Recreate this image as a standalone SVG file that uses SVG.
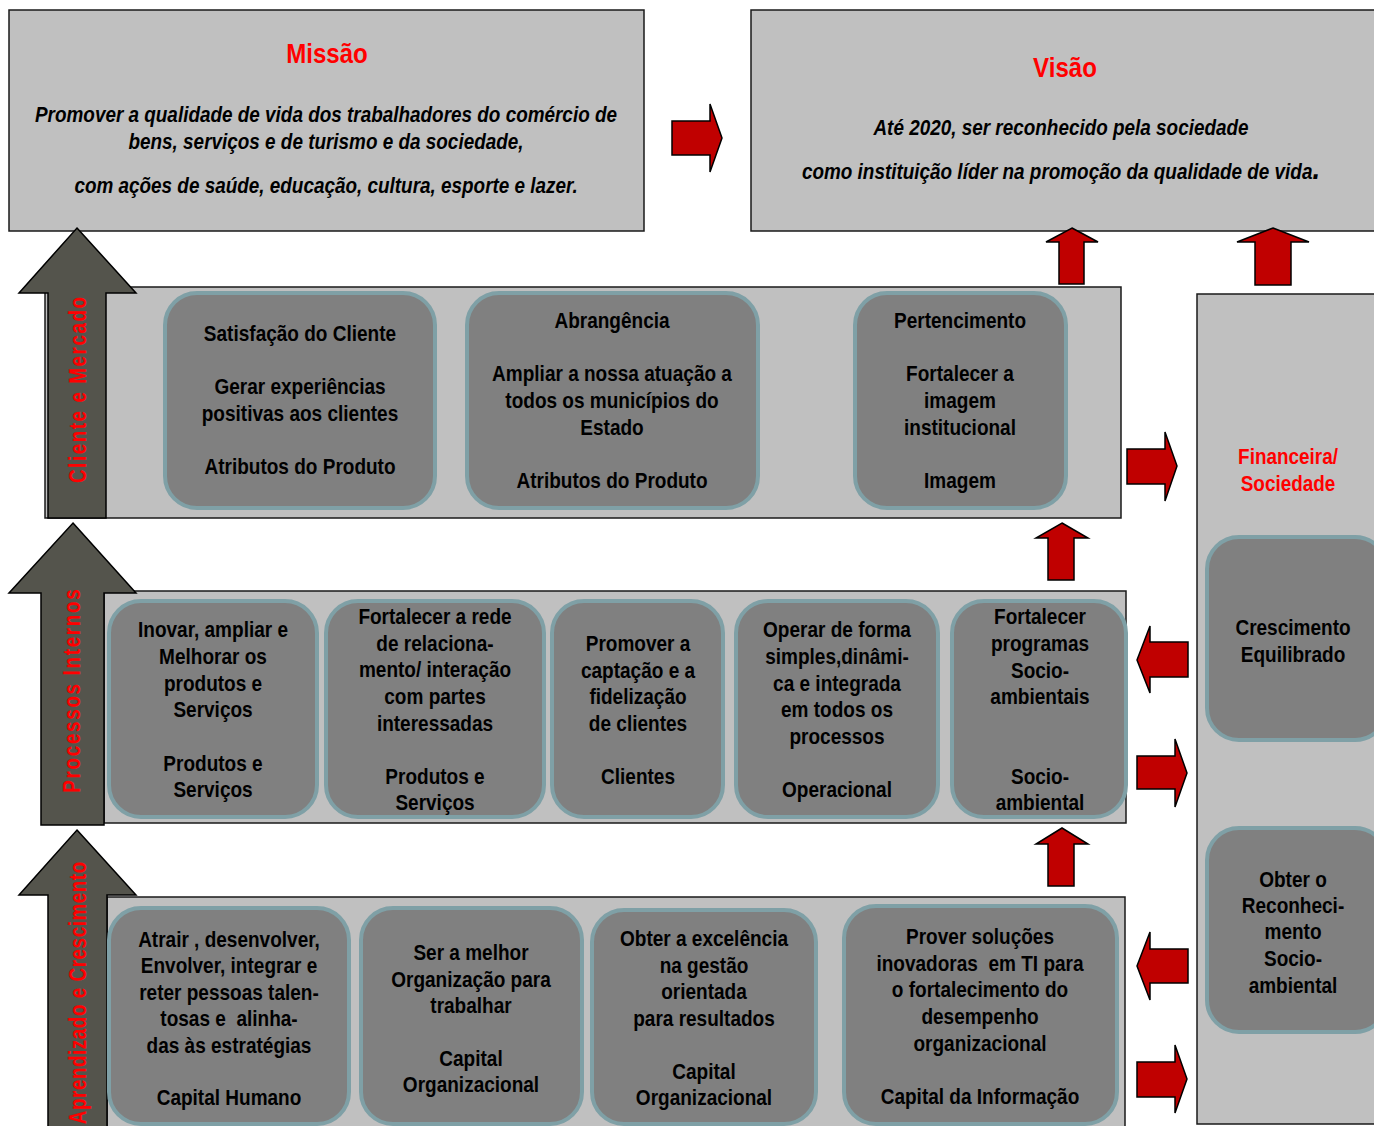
<svg xmlns="http://www.w3.org/2000/svg" width="1374" height="1126" viewBox="0 0 1374 1126">
<style>
.box{fill:#c0c0c0;stroke:#1a1a1a;stroke-width:1.5}
.node{fill:#808080;stroke:#7fa0a6;stroke-width:4}
.ga{fill:#54544c;stroke:#000;stroke-width:1.5}
.ra{fill:#c00000;stroke:#000;stroke-width:1.5}
.t{font-family:"Liberation Sans",Arial,sans-serif;font-weight:bold;font-size:22px;fill:#000;text-anchor:middle}
.it{font-style:italic}
.red{fill:#ff0000}
.ttl{font-size:28px}
.vl{font-family:"Liberation Sans",Arial,sans-serif;font-weight:bold;font-size:23px;fill:#ff0000;text-anchor:middle}
</style>
<rect width="1374" height="1126" fill="#fff"/>

<g id="missao">
<rect class="box" x="9" y="10" width="635" height="221"/>
<text class="t red ttl" transform="translate(327,0) scale(0.86,1)" x="0" y="63">Missão</text>
<text class="t it" transform="translate(326,0) scale(0.86,1)"><tspan x="0" y="122">Promover a qualidade de vida dos trabalhadores do comércio de</tspan><tspan x="0" y="149">bens, serviços e de turismo e da sociedade,</tspan><tspan x="0" y="193">com ações de saúde, educação, cultura, esporte e lazer.</tspan></text>
</g>

<g id="visao">
<rect class="box" x="751" y="10" width="630" height="221"/>
<text class="t red ttl" transform="translate(1065,0) scale(0.86,1)" x="0" y="77">Visão</text>
<text class="t it" transform="translate(1061,0) scale(0.86,1)"><tspan x="0" y="135">Até 2020, ser reconhecido pela sociedade</tspan><tspan x="0" y="179">como instituição líder na promoção da qualidade de vida<tspan style="font-size:32px">.</tspan></tspan></text>
</g>

<g id="painel-cliente">
<rect class="box" x="45" y="287" width="1076" height="231"/>
</g>
<g id="painel-processos">
<rect class="box" x="104" y="591" width="1022" height="232"/>
</g>
<g id="painel-aprendizado">
<rect class="box" x="107" y="897" width="1018" height="240"/>
</g>
<g id="painel-financeira">
<rect class="box" x="1197" y="294" width="184" height="830"/>
<text class="t red" transform="translate(1288,0) scale(0.86,1)"><tspan x="0" y="464">Financeira/</tspan><tspan x="0" y="491">Sociedade</tspan></text>
</g>

<g id="seta-cliente">
<path class="ga" d="M77,228 L136,293 H106 V518 H48 V293 H19 Z"/>
<text class="vl" transform="translate(86,390) rotate(-90) scale(0.82,1)" textLength="227" lengthAdjust="spacing">Cliente e Mercado</text>
</g>
<g id="seta-processos">
<path class="ga" d="M73,523 L136,593 H104 V825 H41 V593 H9 Z"/>
<text class="vl" transform="translate(80,691) rotate(-90) scale(0.82,1)" textLength="248" lengthAdjust="spacing">Processos Internos</text>
</g>
<g id="seta-aprendizado">
<path class="ga" d="M77,830 L136,895 H107 V1135 H48 V895 H19 Z"/>
<text class="vl" transform="translate(86,993) rotate(-90) scale(0.82,1)" textLength="320" lengthAdjust="spacing">Aprendizado e Crescimento</text>
</g>

<g id="satisfacao">
<rect class="node" x="165" y="293" width="270" height="215" rx="32"/>
<text class="t" transform="translate(300,0) scale(0.865,1)"><tspan x="0" y="341">Satisfação do Cliente</tspan><tspan x="0" y="394">Gerar experiências</tspan><tspan x="0" y="421">positivas aos clientes</tspan><tspan x="0" y="474">Atributos do Produto</tspan></text>
</g>
<g id="abrangencia">
<rect class="node" x="467" y="293" width="291" height="215" rx="32"/>
<text class="t" transform="translate(612,0) scale(0.865,1)"><tspan x="0" y="328">Abrangência</tspan><tspan x="0" y="381">Ampliar a nossa atuação a</tspan><tspan x="0" y="408">todos os municípios do</tspan><tspan x="0" y="435">Estado</tspan><tspan x="0" y="488">Atributos do Produto</tspan></text>
</g>
<g id="pertencimento">
<rect class="node" x="855" y="293" width="211" height="215" rx="32"/>
<text class="t" transform="translate(960,0) scale(0.865,1)"><tspan x="0" y="328">Pertencimento</tspan><tspan x="0" y="381">Fortalecer a</tspan><tspan x="0" y="408">imagem</tspan><tspan x="0" y="435">institucional</tspan><tspan x="0" y="488">Imagem</tspan></text>
</g>

<g id="inovar">
<rect class="node" x="109" y="601" width="208" height="216" rx="32"/>
<text class="t" transform="translate(213,0) scale(0.865,1)"><tspan x="0" y="637">Inovar, ampliar e</tspan><tspan x="0" y="664">Melhorar os</tspan><tspan x="0" y="691">produtos e</tspan><tspan x="0" y="717">Serviços</tspan><tspan x="0" y="771">Produtos e</tspan><tspan x="0" y="797">Serviços</tspan></text>
</g>
<g id="rede">
<rect class="node" x="326" y="601" width="218" height="216" rx="32"/>
<text class="t" transform="translate(435,0) scale(0.865,1)"><tspan x="0" y="624">Fortalecer a rede</tspan><tspan x="0" y="651">de relaciona-</tspan><tspan x="0" y="677">mento/ interação</tspan><tspan x="0" y="704">com partes</tspan><tspan x="0" y="731">interessadas</tspan><tspan x="0" y="784">Produtos e</tspan><tspan x="0" y="810">Serviços</tspan></text>
</g>
<g id="promover">
<rect class="node" x="552" y="601" width="171" height="216" rx="32"/>
<text class="t" transform="translate(638,0) scale(0.865,1)"><tspan x="0" y="651">Promover a</tspan><tspan x="0" y="678">captação e a</tspan><tspan x="0" y="704">fidelização</tspan><tspan x="0" y="731">de clientes</tspan><tspan x="0" y="784">Clientes</tspan></text>
</g>
<g id="operar">
<rect class="node" x="736" y="601" width="202" height="216" rx="32"/>
<text class="t" transform="translate(837,0) scale(0.865,1)"><tspan x="0" y="637">Operar de forma</tspan><tspan x="0" y="664">simples,dinâmi-</tspan><tspan x="0" y="691">ca e integrada</tspan><tspan x="0" y="717">em todos os</tspan><tspan x="0" y="744">processos</tspan><tspan x="0" y="797">Operacional</tspan></text>
</g>
<g id="programas">
<rect class="node" x="952" y="601" width="174" height="216" rx="32"/>
<text class="t" transform="translate(1040,0) scale(0.865,1)"><tspan x="0" y="624">Fortalecer</tspan><tspan x="0" y="651">programas</tspan><tspan x="0" y="678">Socio-</tspan><tspan x="0" y="704">ambientais</tspan><tspan x="0" y="784">Socio-</tspan><tspan x="0" y="810">ambiental</tspan></text>
</g>

<g id="atrair">
<rect class="node" x="109" y="908" width="240" height="216" rx="32"/>
<text class="t" transform="translate(229,0) scale(0.865,1)"><tspan x="0" y="947">Atrair , desenvolver,</tspan><tspan x="0" y="973">Envolver, integrar e</tspan><tspan x="0" y="1000">reter pessoas talen-</tspan><tspan x="0" y="1026" xml:space="preserve">tosas e  alinha-</tspan><tspan x="0" y="1053">das às estratégias</tspan><tspan x="0" y="1105">Capital Humano</tspan></text>
</g>
<g id="melhor">
<rect class="node" x="361" y="908" width="221" height="216" rx="32"/>
<text class="t" transform="translate(471,0) scale(0.865,1)"><tspan x="0" y="960">Ser a melhor</tspan><tspan x="0" y="987">Organização para</tspan><tspan x="0" y="1013">trabalhar</tspan><tspan x="0" y="1066">Capital</tspan><tspan x="0" y="1092">Organizacional</tspan></text>
</g>
<g id="excelencia">
<rect class="node" x="592" y="910" width="224" height="214" rx="32"/>
<text class="t" transform="translate(704,0) scale(0.865,1)"><tspan x="0" y="946">Obter a excelência</tspan><tspan x="0" y="973">na gestão</tspan><tspan x="0" y="999">orientada</tspan><tspan x="0" y="1026">para resultados</tspan><tspan x="0" y="1079">Capital</tspan><tspan x="0" y="1105">Organizacional</tspan></text>
</g>
<g id="prover">
<rect class="node" x="844" y="906" width="273" height="218" rx="32"/>
<text class="t" transform="translate(980,0) scale(0.865,1)"><tspan x="0" y="944">Prover soluções</tspan><tspan x="0" y="971" xml:space="preserve">inovadoras  em TI para</tspan><tspan x="0" y="997">o fortalecimento do</tspan><tspan x="0" y="1024">desempenho</tspan><tspan x="0" y="1051">organizacional</tspan><tspan x="0" y="1104">Capital da Informação</tspan></text>
</g>

<g id="crescimento">
<rect class="node" x="1207" y="537" width="180" height="203" rx="32"/>
<text class="t" transform="translate(1293,0) scale(0.865,1)"><tspan x="0" y="635">Crescimento</tspan><tspan x="0" y="662">Equilibrado</tspan></text>
</g>
<g id="reconhecimento">
<rect class="node" x="1207" y="828" width="180" height="204" rx="32"/>
<text class="t" transform="translate(1293,0) scale(0.865,1)"><tspan x="0" y="887">Obter o</tspan><tspan x="0" y="913">Reconheci-</tspan><tspan x="0" y="939">mento</tspan><tspan x="0" y="966">Socio-</tspan><tspan x="0" y="993">ambiental</tspan></text>
</g>

<g id="conectores">
<path class="ra" d="M672,121 H710 V104 L722,138 L710,172 V155 H672 Z"/>
<path class="ra" d="M1072,228 L1098,242 H1084 V284 H1059 V242 H1046 Z"/>
<path class="ra" d="M1273,228 L1309,242 H1291 V285 H1255 V242 H1237 Z"/>
<path class="ra" d="M1062,523 L1088,538 H1074 V580 H1048 V538 H1036 Z"/>
<path class="ra" d="M1062,828 L1088,844 H1074 V886 H1048 V844 H1036 Z"/>
<path class="ra" d="M1127,449 H1165 V432 L1177,466 L1165,501 V484 H1127 Z"/>
<path class="ra" d="M1188,642 H1150 V626 L1137,660 L1150,693 V677 H1188 Z"/>
<path class="ra" d="M1137,756 H1175 V739 L1187,773 L1175,807 V789 H1137 Z"/>
<path class="ra" d="M1188,949 H1150 V932 L1137,966 L1150,1000 V983 H1188 Z"/>
<path class="ra" d="M1137,1062 H1175 V1045 L1187,1079 L1175,1113 V1097 H1137 Z"/>
</g>
</svg>
